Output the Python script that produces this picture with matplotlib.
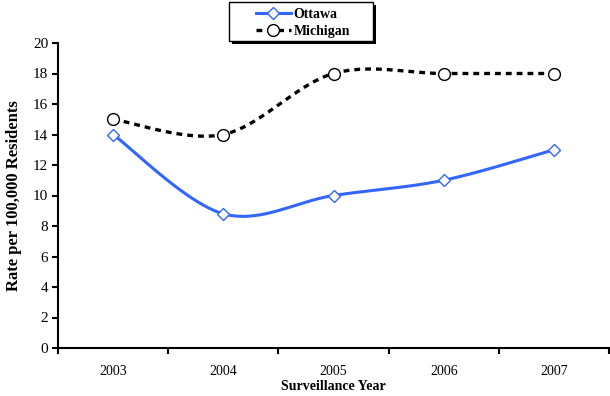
import matplotlib
matplotlib.use('Agg')
import numpy as np
import matplotlib.pyplot as plt
from matplotlib.lines import Line2D
from matplotlib.patches import Rectangle

years = ['2003', '2004', '2005', '2006', '2007']
ottawa = [14, 8.8, 10, 11, 13]
michigan = [15, 14, 18, 18, 18]

plt.rcParams['font.family'] = ['Liberation Serif', 'DejaVu Serif']


def smooth(x, y, steps=40):
    # Bezier smoothing in the style of spreadsheet "smoothed line" charts
    x = np.asarray(x, float)
    y = np.asarray(y, float)
    px = np.concatenate([[x[0]], x, [x[-1]]])
    py = np.concatenate([[y[0]], y, [y[-1]]])
    xs, ys = [], []
    t = np.linspace(0, 1, steps)
    for i in range(1, len(px) - 2):
        p0 = np.array([px[i], py[i]])
        p3 = np.array([px[i + 1], py[i + 1]])
        c1 = p0 + (np.array([px[i + 1], py[i + 1]]) - np.array([px[i - 1], py[i - 1]])) / 6
        c2 = p3 - (np.array([px[i + 2], py[i + 2]]) - np.array([px[i], py[i]])) / 6
        b = (np.outer((1 - t) ** 3, p0) + np.outer(3 * (1 - t) ** 2 * t, c1)
             + np.outer(3 * (1 - t) * t ** 2, c2) + np.outer(t ** 3, p3))
        xs.extend(b[:, 0])
        ys.extend(b[:, 1])
    return np.array(xs), np.array(ys)


W, H = 610, 396
fig = plt.figure(figsize=(W / 100, H / 100), dpi=100)
ax = fig.add_axes([58 / W, 1 - 348 / H, 551 / W, 305 / H])

xpos = np.arange(len(years))
blue = '#3366FF'
dash = (0, (1.75, 1.5))

sx, sy = smooth(xpos, ottawa)
ax.plot(sx, sy, color=blue, lw=2.2, zorder=3)
ax.plot(xpos, ottawa, ls='none', marker='D', ms=6, mfc='white', mec=blue, mew=1.0, zorder=4)

sx, sy = smooth(xpos, michigan)
ax.plot(sx, sy, color='black', lw=2.4, ls=dash, zorder=3)
ax.plot(xpos, michigan, ls='none', marker='o', ms=8.5, mfc='white', mec='black', mew=1.0, zorder=4)

ax.set_xlim(-0.5, len(years) - 0.5)
ax.set_ylim(0, 20)
ax.set_yticks(range(0, 21, 2))
ax.set_xticks(xpos)
ax.set_xticklabels(years)
ax.set_xticks(np.arange(-0.5, len(years), 1), minor=True)
ax.tick_params(axis='x', which='major', length=0, labelsize=10, pad=12)
ax.tick_params(axis='x', which='minor', length=4, width=1.5, direction='out')
ax.tick_params(axis='y', length=4, width=1.5, direction='out', labelsize=11, pad=3)

for side in ['top', 'right']:
    ax.spines[side].set_visible(False)
ax.spines['left'].set_linewidth(1.5)
ax.spines['bottom'].set_linewidth(1.5)

ax.set_xlabel('Surveillance Year', fontsize=10, fontweight='bold', labelpad=2)
ax.set_ylabel('Rate per 100,000 Residents', fontsize=12, fontweight='bold', labelpad=8)

# legend box with a solid drop shadow
bx, by, bw, bh = 229, 2, 144, 39
fig.patches.append(Rectangle(((bx + 3) / W, 1 - (by + bh + 3) / H), bw / W, bh / H,
                             transform=fig.transFigure, facecolor='black', edgecolor='none', zorder=5))
fig.patches.append(Rectangle((bx / W, 1 - (by + bh) / H), bw / W, bh / H,
                             transform=fig.transFigure, facecolor='white', edgecolor='black',
                             lw=1.0, zorder=6))

handles = [
    Line2D([], [], color=blue, lw=2.2, marker='D', ms=6, mfc='white', mec=blue),
    Line2D([], [], color='black', lw=2.4, ls=dash, marker='o', ms=8.5, mfc='white', mec='black'),
]
leg = fig.legend(handles, ['Ottawa', 'Michigan'], loc='upper left',
                 bbox_to_anchor=(256 / W, 1 - 8 / H), bbox_transform=fig.transFigure,
                 frameon=False, prop={'weight': 'bold', 'size': 10}, handlelength=2.5,
                 borderpad=0, labelspacing=0.3, handletextpad=0.2, borderaxespad=0)
leg.set_zorder(7)

fig.savefig('out.png', dpi=100)
